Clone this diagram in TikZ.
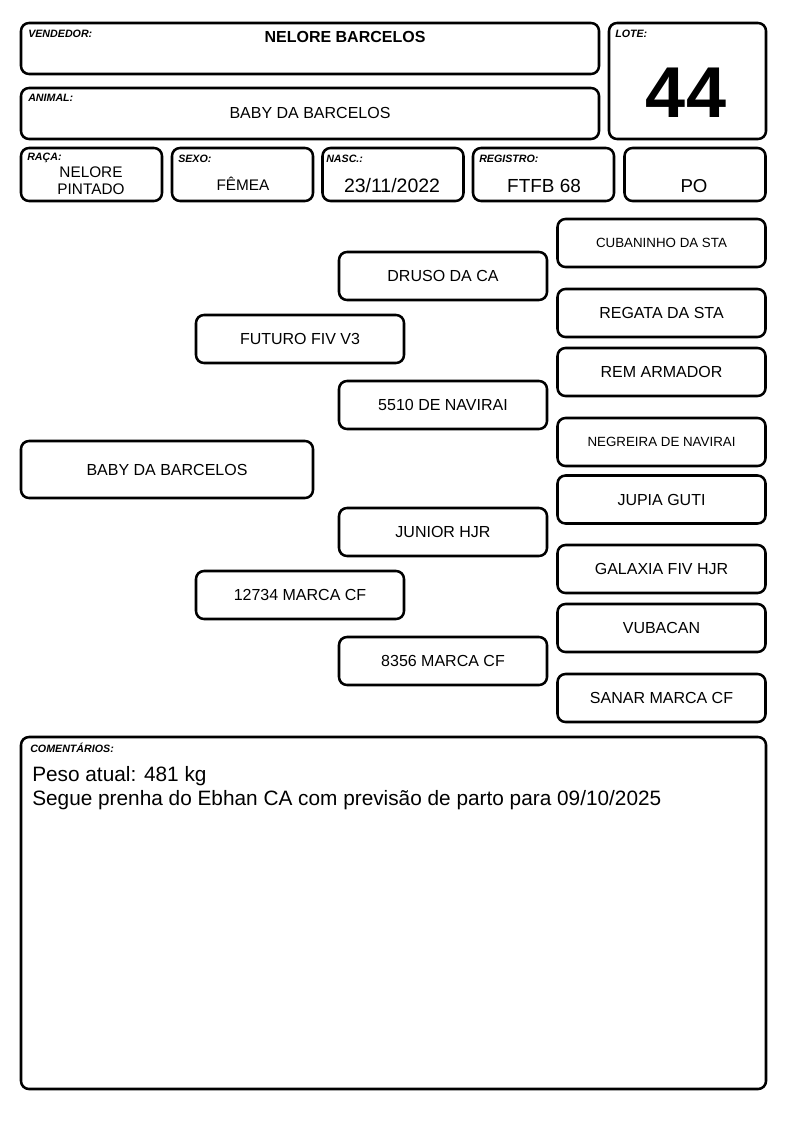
\documentclass[tikz,border=0pt]{standalone}
\usepackage{fontspec}
\setmainfont{Liberation Sans}
\usepackage{tikz}

\tikzset{
	box/.style={draw, line width=1.9pt, rounded corners=6pt, inner sep=0pt},
	tag/.style={anchor=north west, inner sep=0pt, font=\fontsize{8}{9}\selectfont\bfseries\itshape},
	ped/.style={box, minimum width=156pt, minimum height=36pt, font=\fontsize{12}{14}\selectfont},
	pedsmall/.style={ped, font=\fontsize{10}{12}\selectfont},
	info/.style={box, minimum width=105.75pt, minimum height=39.75pt}
}

\begin{document}
\begin{tikzpicture}[x=0.75pt, y=-0.75pt]
			\useasboundingbox (0,0) rectangle (794,1123);
			% cabecalho
			\node[box, minimum width=433.5pt, minimum height=38.25pt] (vend) at (310,48.5) {};
			\node[tag] (vendtag) at (28,30) {VENDEDOR:};
			\node[font=\fontsize{12}{14}\selectfont\bfseries] (vendname) at (345,37) {NELORE BARCELOS};
			\node[box, minimum width=433.5pt, minimum height=38.25pt] (animal) at (310,113.5) {};
			\node[tag] (animaltag) at (28,94) {ANIMAL:};
			\node[font=\fontsize{12}{14}\selectfont] (animalname) at (310,113) {BABY DA BARCELOS};
			\node[box, minimum width=117.75pt, minimum height=87pt] (lote) at (687.5,81) {};
			\node[tag] (lotetag) at (615,30) {LOTE:};
			\node[font=\fontsize{54}{60}\selectfont\bfseries] (lotenum) at (686,93) {44};
			% dados
			\node[info] (raca) at (91.5,174.5) {};
			\node[tag] (racatag) at (27,153) {RAÇA:};
			\node[align=center, font=\fontsize{11.5}{12.75}\selectfont] (racaval) at (91,180.5) {NELORE\\PINTADO};
			\node[info] (sexo) at (242.5,174.5) {};
			\node[tag] (sexotag) at (178,155) {SEXO:};
			\node[font=\fontsize{11.5}{13}\selectfont] (sexoval) at (243,184) {FÊMEA};
			\node[info] (nasc) at (393,174.5) {};
			\node[tag] (nasctag) at (326,155) {NASC.:};
			\node[font=\fontsize{14.6}{16}\selectfont] (nascval) at (392,186) {23/11/2022};
			\node[info] (reg) at (543.5,174.5) {};
			\node[tag] (regtag) at (479,155) {REGISTRO:};
			\node[font=\fontsize{14.2}{16}\selectfont] (regval) at (544,186) {FTFB 68};
			\node[info] (cat) at (695,174.5) {};
			\node[font=\fontsize{14}{16}\selectfont] (catval) at (694,186) {PO};
			% genealogia
			\node[box, minimum width=219pt, minimum height=42.75pt, font=\fontsize{12}{14}\selectfont] (prod) at (167,469.5) {BABY DA BARCELOS};
			\node[ped] (pai) at (300,339) {FUTURO FIV V3};
			\node[ped] (mae) at (300,595) {12734 MARCA CF};
			\node[ped] (avopp) at (443,276) {DRUSO DA CA};
			\node[ped] (avopm) at (443,405) {5510 DE NAVIRAI};
			\node[ped] (avomp) at (443,532) {JUNIOR HJR};
			\node[ped] (avomm) at (443,661) {8356 MARCA CF};
			\node[pedsmall] (bis1) at (661.5,243) {CUBANINHO DA STA};
			\node[ped] (bis2) at (661.5,313) {REGATA DA STA};
			\node[ped] (bis3) at (661.5,372) {REM ARMADOR};
			\node[pedsmall] (bis4) at (661.5,442) {NEGREIRA DE NAVIRAI};
			\node[ped] (bis5) at (661.5,499.5) {JUPIA GUTI};
			\node[ped] (bis6) at (661.5,569) {GALAXIA FIV HJR};
			\node[ped] (bis7) at (661.5,628) {VUBACAN};
			\node[ped] (bis8) at (661.5,698) {SANAR MARCA CF};
			% comentarios
			\node[box, minimum width=558.75pt, minimum height=264pt] (coment) at (393.5,913) {};
			\node[tag] (comenttag) at (30,743) {COMENTÁRIOS:};
			\node[anchor=north west, inner sep=0pt, align=left, font=\fontsize{15.6}{18}\selectfont] (comenttxt) at (32,766) {Peso atual: 481 kg\\Segue prenha do Ebhan CA com previsão de parto para 09/10/2025};
		\end{tikzpicture}
\end{document}
